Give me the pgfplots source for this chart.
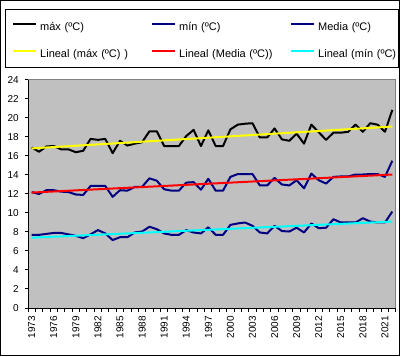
\documentclass[border=0pt]{standalone}
\usepackage{fontspec}
\setmainfont{Liberation Sans}
\usepackage{pgfplots}
\usepackage{pgfplotstable}
\pgfplotsset{compat=1.18}
\definecolor{navyx}{HTML}{000080}
\definecolor{plotgray}{HTML}{C0C0C0}
\definecolor{framegray}{HTML}{808080}
\definecolor{trendyellow}{HTML}{FFFF00}
\definecolor{trendred}{HTML}{FF0000}
\definecolor{trendcyan}{HTML}{00FFFF}
\pgfplotstableread{
year maxv medv minv
1973 16.9 12.2 7.7
1974 16.45 12.0 7.7
1975 17.0 12.4 7.8
1976 17.05 12.4 7.9
1977 16.7 12.25 7.9
1978 16.7 12.2 7.75
1979 16.4 11.95 7.6
1980 16.55 11.9 7.35
1981 17.8 12.85 7.75
1982 17.7 12.85 8.2
1983 17.8 12.85 7.85
1984 16.3 11.7 7.15
1985 17.6 12.4 7.45
1986 17.1 12.35 7.45
1987 17.3 12.75 7.95
1988 17.45 12.75 8.05
1989 18.6 13.65 8.55
1990 18.6 13.4 8.3
1991 17.05 12.5 7.85
1992 17.05 12.35 7.7
1993 17.05 12.35 7.7
1994 18.1 13.2 8.2
1995 18.75 13.25 7.95
1996 17.05 12.45 7.85
1997 18.7 13.6 8.5
1998 17.05 12.35 7.7
1999 17.05 12.35 7.7
2000 18.8 13.8 8.75
2001 19.3 14.1 8.9
2002 19.4 14.1 9.0
2003 19.45 14.1 8.65
2004 17.95 12.9 7.95
2005 17.95 12.9 7.85
2006 18.9 13.7 8.65
2007 17.75 13.0 8.1
2008 17.6 12.9 8.05
2009 18.35 13.45 8.45
2010 17.3 12.6 7.95
2011 19.3 14.15 8.9
2012 18.5 13.45 8.4
2013 17.7 13.1 8.45
2014 18.45 13.8 9.35
2015 18.45 13.85 9.0
2016 18.55 13.85 9.0
2017 19.3 14.05 9.0
2018 18.55 14.05 9.45
2019 19.45 14.1 9.1
2020 19.3 14.1 9.0
2021 18.55 13.8 9.0
2022 20.85 15.5 10.15
}\datatable
\begin{document}
\begin{tikzpicture}
\useasboundingbox (0bp,0bp) rectangle (401bp,357bp);
\fill[white] (0bp,0bp) rectangle (401bp,357bp);
\draw[black, line width=1bp] (0.5bp,1.5bp) rectangle (399.5bp,356.5bp);
\draw[black, line width=1bp] (5.5bp,289.5bp) rectangle (398.5bp,347.5bp);
\begin{axis}[
  at={(28bp,49bp)}, anchor=south west,
  scale only axis, width=368bp, height=228bp,
  xmin=1972.5, xmax=2022.5, ymin=0, ymax=24,
  axis background/.style={fill=plotgray},
  axis x line*=bottom, axis y line*=left,
  axis line style={line width=1bp, black},
  tick align=outside,
  ytick={0,2,...,24},
  xtick={1973,1976,...,2021},
  minor xtick={1972.5,1973.5,...,2022.5},
  major tick length=3.5bp, minor tick length=3.5bp,
  major x tick style={draw=none},
  every tick/.style={black, line width=1bp},
  /pgf/number format/assume math mode=true,
  /pgf/number format/1000 sep={},
  xticklabel style={rotate=90, anchor=east, inner sep=0pt, xshift=-4.5bp, font=\fontsize{10bp}{12bp}\selectfont},
  yticklabel style={anchor=east, inner sep=0pt, xshift=-5.5bp, font=\fontsize{10bp}{12bp}\selectfont},
  legend columns=3,
  legend cell align=left,
  legend image code/.code={\draw[#1] (0bp,3.5bp) -- (23bp,3.5bp);},
  legend style={at={(-0.04348,1.2565)}, anchor=north west, draw=none, fill=none,
    inner sep=0pt, row sep=16bp,
    font=\fontsize{11bp}{13bp}\selectfont,
    nodes={inner sep=0pt, text height=8.5bp, text depth=2.5bp, text width=109bp, align=left},
    /tikz/every odd column/.append style={column sep=3bp},
    /tikz/every even column/.append style={column sep=2bp}},
  every axis plot/.append style={line width=2bp, line join=round, mark=none},
  clip=false,
]
\addplot[black] table[x=year, y=maxv] {\datatable};
\addlegendentry{máx (ºC)}
\addplot[navyx] table[x=year, y=minv] {\datatable};
\addlegendentry{mín (ºC)}
\addplot[navyx] table[x=year, y=medv] {\datatable};
\addlegendentry{Media (ºC)}
\addplot[trendyellow] coordinates {(1973,16.8) (2022,19.1)};
\addlegendentry{Lineal (máx (ºC) )}
\addplot[trendred] coordinates {(1973,12.15) (2022,14.05)};
\addlegendentry{Lineal (Media (ºC))}
\addplot[trendcyan] coordinates {(1973,7.4) (2022,9.1)};
\addlegendentry{Lineal (mín (ºC)}
\draw[framegray, line width=1bp] (rel axis cs:0,1) -- (rel axis cs:1,1) -- (rel axis cs:1,0);
\end{axis}
\end{tikzpicture}
\end{document}
